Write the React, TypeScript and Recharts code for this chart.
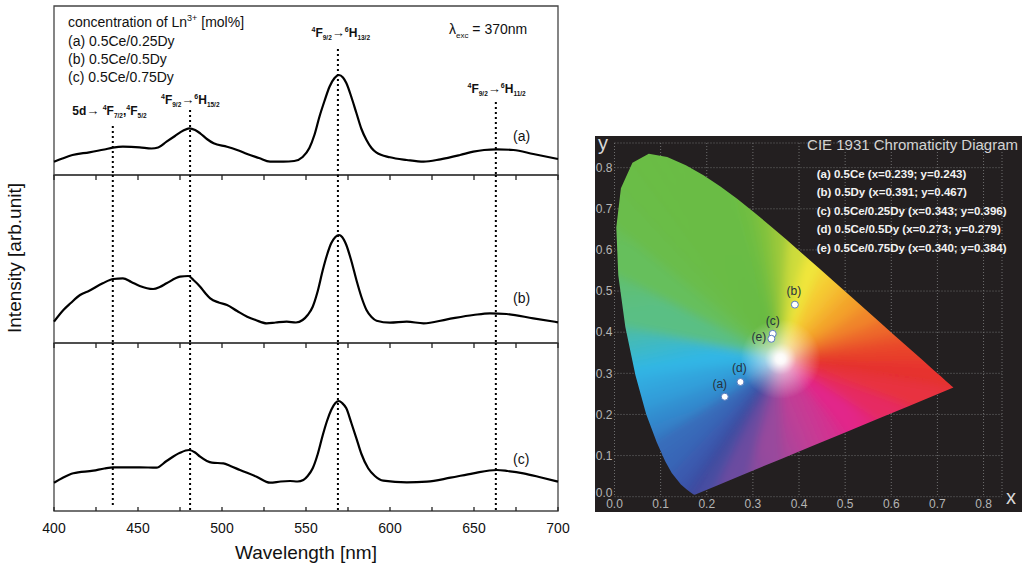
import React from 'react';
import {
  LineChart, Line, XAxis, YAxis, ReferenceLine, ReferenceArea,
  ScatterChart, Scatter, CartesianGrid,
} from 'recharts';

const FONT = '"Liberation Sans", Arial, Helvetica, sans-serif';

// ---------- Emission spectra (arb. units) ----------
const WL_A = [400,405,411,421,430,435,441,451,458,462,467,472,477,480.5,484,487,491,495,503,509,515,522,528.6,536.5,543,548,552,555,558,561,564,567,569.6,572,574,577,580,583,586,589,592,600,610,620,630,641.7,649.6,656,663.5,673.4,685.3,700];
const INT_A = [13.3,16.5,20,22.7,25.5,27.3,28.3,27.7,26.5,27.5,33.3,39,44.5,46.7,45,41.7,36,31.7,28.3,25,21,17,13.3,13.3,14,18,27,40,58.3,74,88.3,97,100,97.5,92,78,62,46,35,27,22.3,17.7,15,13.3,15.7,20,23.3,25,25.7,25,21,16];

const WL_B = [400,405.6,410,415.5,421,429,435.3,441,446,451,459,463,467,475,480,483,487,490,493,498,503,509,515,520,526.6,532,538.5,544,548,551,554,557,560,562.5,565,567.5,569.6,571.5,574,577,580,583,586,589,592,600,610,620,634,649.6,659.5,669.4,685.3,700];
const INT_B = [21.3,33,40,48,52.3,59.7,64,64.7,61,57,54,56,59.7,66.3,67,63,56.3,50,44.7,40.5,38,32,26.3,23,19.7,20.5,21.3,20.5,23,28,36.3,52,73,88,99.7,106,108,106,98,82,63,46,33,26,22.3,20.3,21.3,19.7,23.7,28,29.7,29,24.7,20.7];

const WL_C = [400,405,411.5,423.4,430,435.3,451,461,467,475,480.4,484,487,491,494,500.8,505,510.7,520.6,528.6,535,540.5,545,548.4,551,554,557,560,562.5,565,567.5,569.6,571.5,574,577,580,583,587,591,596,610,622,636,649.6,663.5,670,679.4,690,700];
const INT_C = [28.3,33,37.7,40.3,42.5,43.7,43.7,43.3,50,58.3,61,58.5,54.3,50,48.3,47.7,45,41,34.3,28.3,29.5,30,29.5,31,35,42.7,57,76,90,101,108,110,108,102.7,88,72.7,57,42.7,35,30.3,28.7,29.3,33.3,37.7,41,40,37.7,33.5,29.3];

const SPEC_TICKS = [400,425,450,475,500,525,550,575,600,625,650,675,700];
const TRANSITION_WL = [435, 481, 569, 663];
const PANEL1_LINE_TOPS = [49, 65, 126, 73];

// ---------- CIE 1931 ----------
const LOCUS_WL = [380,420,440,450,460,470,475,480,485,490,495,500,505,510,515,520,525,530,535,540,545,550,555,560,565,570,575,580,585,590,595,600,610,620,630,640,650,660,680,700];
const LOCUS_X = [0.1741,0.1714,0.1644,0.1566,0.1440,0.1241,0.1096,0.0913,0.0687,0.0454,0.0235,0.0082,0.0039,0.0139,0.0389,0.0743,0.1142,0.1547,0.1929,0.2296,0.2658,0.3016,0.3373,0.3731,0.4087,0.4441,0.4788,0.5125,0.5448,0.5752,0.6029,0.6270,0.6658,0.6915,0.7079,0.7190,0.7260,0.7300,0.7334,0.7347];
const LOCUS_Y = [0.0050,0.0051,0.0109,0.0177,0.0297,0.0578,0.0868,0.1327,0.2007,0.2950,0.4127,0.5384,0.6548,0.7502,0.8120,0.8338,0.8262,0.8059,0.7816,0.7543,0.7243,0.6923,0.6589,0.6245,0.5896,0.5547,0.5202,0.4866,0.4544,0.4242,0.3965,0.3725,0.3340,0.3083,0.2920,0.2809,0.2740,0.2700,0.2666,0.2653];
const PURPLE_X = [0.64,0.57,0.50,0.43,0.36,0.29,0.22];
const PURPLE_Y = [0.2213,0.1888,0.1563,0.1238,0.0913,0.0588,0.0263];
const WHITE_X = 0.36;
const WHITE_Y = 0.335;

const LOCUS_COLORS = ['#3c4a9f','#3c4a9f','#3c4ca2','#3c50a6','#3b55ab','#3a5cb0','#3866b7','#376cba','#3290d2','#30b6e6','#5abf84','#66bf5c','#6abd4c','#6abd47','#6abd45','#6abd45','#6abd45','#6abd45','#6abd45','#6abd45','#6abd45','#70be42','#80c23e','#9cc93a','#cddc3a','#f1e63b','#f6c832','#f4a32b','#f1852a','#ee6a2a','#eb542b','#e9432c','#e8352d','#e8302d','#e8302d','#e8302d','#e8302d','#e8302d','#e8302d','#e8302d'];
const PURPLE_COLORS = ['#e8303f','#e62a62','#e2258a','#c23e96','#984a9d','#6c4ca0','#4a4ea2'];
const FAN_COLORS = [...LOCUS_COLORS, ...PURPLE_COLORS];

const SAMPLE_NAMES = ['(a)','(b)','(c)','(d)','(e)'];
const SAMPLE_X = [0.239,0.391,0.343,0.273,0.340];
const SAMPLE_Y = [0.243,0.467,0.396,0.279,0.384];
const LEGEND_LINES = [
  '(a) 0.5Ce (x=0.239; y=0.243)',
  '(b) 0.5Dy (x=0.391; y=0.467)',
  '(c) 0.5Ce/0.25Dy (x=0.343; y=0.396)',
  '(d) 0.5Ce/0.5Dy (x=0.273; y=0.279)',
  '(e) 0.5Ce/0.75Dy (x=0.340; y=0.384)',
];
const LABEL_OFFSET: Record<string, [number, number]> = {
  '(a)': [-5, -9], '(b)': [-1, -10], '(c)': [0, -9], '(d)': [-1, -10], '(e)': [-12.5, 2.5],
};
const CIE_TICKS = [0, 0.1, 0.2, 0.3, 0.4, 0.5, 0.6, 0.7, 0.8];
const CIE_X_DOMAIN = [0, 0.84];
const CIE_Y_DOMAIN = [0, 0.86];

// ---------- helpers ----------
const TICK_COLOR = '#222';
const TopTick = (p: any) => (
  <line x1={p.x} x2={p.x} y1={p.y} y2={p.y + 5} stroke={TICK_COLOR} strokeWidth={1.3} />
);
const BottomTick = (p: any) => {
  const v = p.payload.value;
  return (
    <g>
      <line x1={p.x} x2={p.x} y1={p.y} y2={p.y - 4} stroke={TICK_COLOR} strokeWidth={1.3} />
      {v % 50 === 0 ? (
        <text x={p.x} y={p.y + 22} textAnchor="middle" fontSize={14} fill="#111" fontFamily={FONT}>{v}</text>
      ) : null}
    </g>
  );
};
const EmptyShape = () => <g />;

function SpectrumPanel(props: any) {
  const { wl, val, top, height, yMax, lineTops, lineBottoms, topTicks, bottomTicks } = props;
  const mt = 10, mb = 30;
  const data = wl.map((w: number, i: number) => ({ wl: w, v: val[i] }));
  return (
    <div style={{ position: 'absolute', left: 0, top: top - mt }}>
      <LineChart width={570} height={height + mt + mb} margin={{ top: mt, right: 12, bottom: mb, left: 54 }} data={data}>
        <XAxis xAxisId="b" dataKey="wl" type="number" domain={[400, 700]} ticks={SPEC_TICKS} interval={0}
          orientation="bottom" mirror hide={!bottomTicks} axisLine={false} tickLine={false} tickSize={0} tickMargin={0}
          tick={BottomTick} />
        <XAxis xAxisId="t" dataKey="wl" type="number" domain={[400, 700]} ticks={SPEC_TICKS} interval={0}
          orientation="top" mirror hide={!topTicks} axisLine={false} tickLine={false} tickSize={0} tickMargin={0}
          tick={TopTick} />
        <YAxis domain={[0, yMax]} type="number" hide allowDataOverflow />
        <ReferenceArea xAxisId="b" x1={400} x2={700} y1={0} y2={yMax} fill="none" stroke="#444" strokeWidth={1.3} ifOverflow="visible" />
        {TRANSITION_WL.map((x, i) => (
          <ReferenceLine key={x} xAxisId="b" segment={[{ x, y: lineTops[i] }, { x, y: lineBottoms[i] }]}
            stroke="#000" strokeWidth={2} strokeDasharray="2 3" ifOverflow="visible" />
        ))}
        <Line xAxisId="b" dataKey="v" type="monotone" stroke="#000" strokeWidth={2.2} dot={false} isAnimationActive={false} />
      </LineChart>
    </div>
  );
}

const renderFan = (lp: any) => {
  const pts = lp.points || [];
  if (pts.length < 4) return <g />;
  const c = pts[0];
  const ring = pts.slice(1);
  const n = ring.length;
  const d = ring.map((p: any, i: number) => `${i ? 'L' : 'M'}${p.x} ${p.y}`).join(' ') + 'Z';
  const ext = (p: any) => ({ x: c.x + (p.x - c.x) * 1.3, y: c.y + (p.y - c.y) * 1.3 });
  const grads: any[] = [];
  const tris = ring.map((p: any, i: number) => {
    const j = (i + 1) % n;
    const q = ring[j];
    const a = ext(p), b = ext(q);
    const id = `fanG${i}`;
    grads.push(
      <linearGradient key={id} id={id} gradientUnits="userSpaceOnUse" x1={a.x} y1={a.y} x2={b.x} y2={b.y}>
        <stop offset="0" stopColor={FAN_COLORS[i]} />
        <stop offset="1" stopColor={FAN_COLORS[j]} />
      </linearGradient>
    );
    return <path key={i} d={`M${c.x} ${c.y}L${a.x} ${a.y}L${b.x} ${b.y}Z`} fill={`url(#${id})`} stroke={FAN_COLORS[i]} strokeWidth={0.6} />;
  });
  return (
    <g>
      <defs>
        {grads}
        <clipPath id="cieClip"><path d={d} /></clipPath>
        <filter id="cieBlur" x="-20%" y="-20%" width="140%" height="140%">
          <feGaussianBlur stdDeviation="5" />
        </filter>
        <radialGradient id="cieWhite">
          <stop offset="0" stopColor="#fff" stopOpacity={1} />
          <stop offset="0.12" stopColor="#fff" stopOpacity={0.95} />
          <stop offset="0.4" stopColor="#fff" stopOpacity={0.5} />
          <stop offset="1" stopColor="#fff" stopOpacity={0} />
        </radialGradient>
      </defs>
      <g clipPath="url(#cieClip)">
        <g filter="url(#cieBlur)">{tris}</g>
        <circle cx={c.x} cy={c.y} r={40} fill="url(#cieWhite)" />
      </g>
    </g>
  );
};

const SampleShape = (p: any) => {
  const off = LABEL_OFFSET[p.payload.name] || [0, -9];
  return (
    <g>
      <circle cx={p.cx} cy={p.cy} r={3.5} fill="#fff" stroke="#5a7cc0" strokeWidth={1} />
      <text x={p.cx + off[0]} y={p.cy + off[1]} textAnchor="middle" fontSize={12} fill="#26323d" fontFamily={FONT}>{p.payload.name}</text>
    </g>
  );
};

const CieXTick = (p: any) => (
  <text x={p.x} y={p.y + 11} textAnchor="middle" fontSize={12} fill="#b5b5b5" fontFamily={FONT}>
    {Number(p.payload.value).toFixed(1)}
  </text>
);
const CieYTick = (p: any) => (
  <text x={p.x} y={p.y + (p.payload.value === 0 ? 0 : 4.3)} textAnchor="end" fontSize={12} fill="#b5b5b5" fontFamily={FONT}>
    {Number(p.payload.value).toFixed(1)}
  </text>
);

function Trans({ x, y, sup1, m1, sub1, sup2, m2, sub2 }: any) {
  return (
    <text x={x} y={y} fontFamily={FONT} fontWeight="bold" fontSize={12} fill="#111">
      <tspan fontSize={7} dy={-5}>{sup1}</tspan>
      <tspan fontSize={12} dy={5}>{m1}</tspan>
      <tspan fontSize={6.5} dy={3}>{sub1}</tspan>
      <tspan fontSize={13} dy={-3}>→</tspan>
      <tspan fontSize={7} dy={-5}>{sup2}</tspan>
      <tspan fontSize={12} dy={5}>{m2}</tspan>
      <tspan fontSize={6.5} dy={3}>{sub2}</tspan>
    </text>
  );
}

export default function App() {
  const cieData = [
    { x: WHITE_X, y: WHITE_Y },
    ...LOCUS_X.map((x, i) => ({ x, y: LOCUS_Y[i], wl: LOCUS_WL[i] })),
    ...PURPLE_X.map((x, i) => ({ x, y: PURPLE_Y[i] })),
  ];
  const samples = SAMPLE_NAMES.map((name, i) => ({ name, x: SAMPLE_X[i], y: SAMPLE_Y[i] }));

  return (
    <div style={{ position: 'absolute', left: 0, top: 0, width: 1029, height: 565, background: '#fff', overflow: 'hidden' }}>
      <SpectrumPanel wl={WL_A} val={INT_A} top={6} height={169} yMax={169}
        lineTops={PANEL1_LINE_TOPS} lineBottoms={[0, 0, 0, 0]} topTicks={false} bottomTicks={false} />
      <SpectrumPanel wl={WL_B} val={INT_B} top={175} height={168} yMax={168}
        lineTops={[168, 168, 168, 168]} lineBottoms={[0, 0, 0, 0]} topTicks={true} bottomTicks={false} />
      <SpectrumPanel wl={WL_C} val={INT_C} top={343} height={168} yMax={168}
        lineTops={[168, 168, 168, 168]} lineBottoms={[6, 0, 0, 0]} topTicks={true} bottomTicks={true} />

      {/* CIE: background layer with grid and axis labels */}
      <div style={{ position: 'absolute', left: 595, top: 136, width: 427, height: 376, background: '#231f20' }}>
        <ScatterChart width={427} height={376} margin={{ top: 7, right: 20, bottom: 0, left: 0 }}>
          <CartesianGrid stroke="#6e6e6e" strokeDasharray="1 2" />
          <XAxis dataKey="x" type="number" domain={CIE_X_DOMAIN} ticks={CIE_TICKS} interval={0} height={15.3}
            axisLine={false} tickLine={false} tickSize={0} tickMargin={0} tick={CieXTick} />
          <YAxis dataKey="y" type="number" domain={CIE_Y_DOMAIN} ticks={CIE_TICKS} interval={0} width={19.5}
            axisLine={false} tickLine={false} tickSize={0} tickMargin={2} tick={CieYTick} />
          <Scatter data={samples} shape={EmptyShape} isAnimationActive={false} />
        </ScatterChart>
      </div>
      {/* CIE: colour gamut and samples on top */}
      <div style={{ position: 'absolute', left: 595, top: 136, width: 427, height: 376 }}>
        <ScatterChart width={427} height={376} margin={{ top: 7, right: 20, bottom: 15.3, left: 19.5 }}>
          <XAxis dataKey="x" type="number" domain={CIE_X_DOMAIN} hide />
          <YAxis dataKey="y" type="number" domain={CIE_Y_DOMAIN} hide />
          <Scatter data={cieData} line={renderFan} lineType="joint" shape={EmptyShape} fill="none" isAnimationActive={false} />
          <Scatter data={samples} shape={SampleShape} isAnimationActive={false} />
        </ScatterChart>
      </div>

      <svg width={1029} height={565} style={{ position: 'absolute', left: 0, top: 0, pointerEvents: 'none' }}>
        <text x={68} y={27} fontSize={14} fontFamily={FONT} fill="#111">
          concentration of Ln<tspan fontSize={9} dy={-6}>3+</tspan><tspan dy={6}> [mol%]</tspan>
        </text>
        <text x={68} y={45.5} fontSize={14} fontFamily={FONT} fill="#111">(a) 0.5Ce/0.25Dy</text>
        <text x={68} y={63.7} fontSize={14} fontFamily={FONT} fill="#111">(b) 0.5Ce/0.5Dy</text>
        <text x={68} y={82} fontSize={14} fontFamily={FONT} fill="#111">(c) 0.5Ce/0.75Dy</text>

        <text x={449} y={34} fontSize={14} fontFamily={FONT} fill="#111">
          λ<tspan fontSize={8} dy={4}>exc</tspan><tspan fontSize={14} dy={-4}> = 370nm</tspan>
        </text>

        <Trans x={311.5} y={37} sup1="4" m1="F" sub1="9/2" sup2="6" m2="H" sub2="13/2" />
        <Trans x={467.5} y={93.3} sup1="4" m1="F" sub1="9/2" sup2="6" m2="H" sub2="11/2" />
        <Trans x={161} y={104} sup1="4" m1="F" sub1="9/2" sup2="6" m2="H" sub2="15/2" />
        <text x={72.3} y={115} fontFamily={FONT} fontWeight="bold" fontSize={12} fill="#111">
          5d<tspan fontSize={13}>→</tspan> <tspan fontSize={7} dy={-5}>4</tspan>
          <tspan fontSize={12} dy={5}>F</tspan>
          <tspan fontSize={6.5} dy={3}>7/2</tspan>
          <tspan fontSize={12} dy={-3}>,</tspan>
          <tspan fontSize={7} dy={-5}>4</tspan>
          <tspan fontSize={12} dy={5}>F</tspan>
          <tspan fontSize={6.5} dy={3}>5/2</tspan>
        </text>

        <text x={513} y={141} fontSize={14} fontFamily={FONT} fill="#111">(a)</text>
        <text x={513} y={303} fontSize={14} fontFamily={FONT} fill="#111">(b)</text>
        <text x={513} y={464} fontSize={14} fontFamily={FONT} fill="#111">(c)</text>

        <text x={306} y={559} fontSize={19} fontFamily={FONT} fill="#111" textAnchor="middle">Wavelength [nm]</text>
        <text x={-258} y={21} transform="rotate(-90)" fontSize={19} fontFamily={FONT} fill="#111" textAnchor="middle">Intensity [arb.unit]</text>

        <text x={1018} y={150} fontSize={15} fontFamily={FONT} fill="#d4d4d4" textAnchor="end">CIE 1931 Chromaticity Diagram</text>
        {LEGEND_LINES.map((t, i) => (
          <text key={t} x={816.7} y={177.5 + i * 18.5} fontSize={11.5} fontWeight="bold" fontFamily={FONT} fill="#f2f2f2">{t}</text>
        ))}
        <text x={598} y={150} fontSize={20} fontFamily={FONT} fill="#d8d8d8">y</text>
        <text x={1006} y={503.5} fontSize={20} fontFamily={FONT} fill="#d8d8d8">x</text>
      </svg>
    </div>
  );
}
